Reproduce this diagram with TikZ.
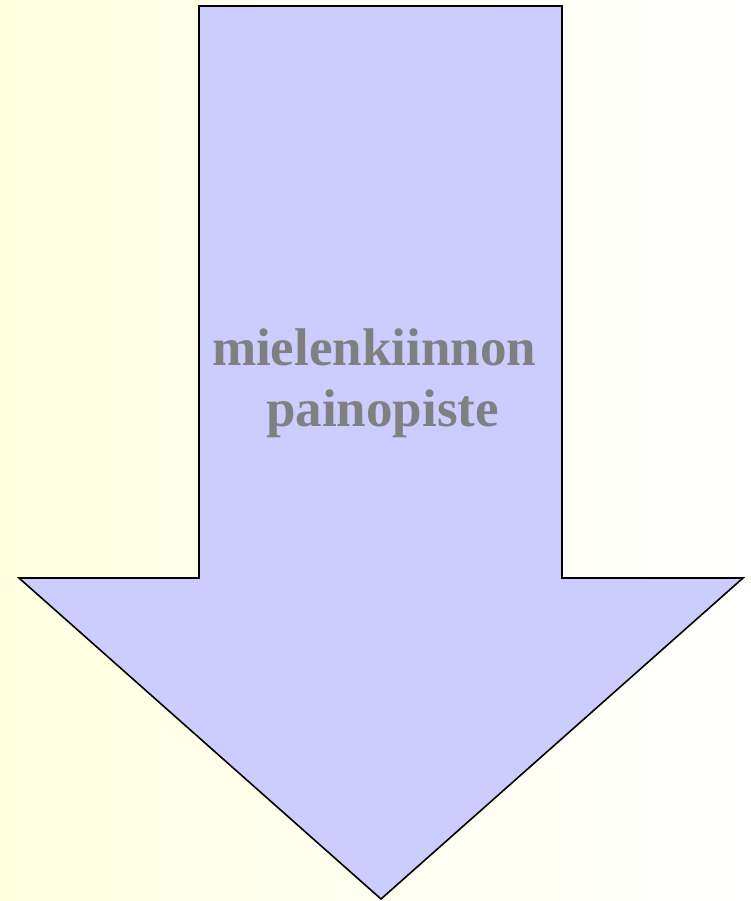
\documentclass[tikz,border=0pt]{standalone}
\usepackage{fontspec}
\setmainfont{Liberation Serif}
\definecolor{bgyellow}{RGB}{255,255,224}
\definecolor{arrowfill}{RGB}{204,204,255}
\definecolor{textgray}{RGB}{128,128,128}
\tikzset{
  bigarrow/.style={draw=black, line width=1.6pt, fill=arrowfill, line join=miter},
  label/.style={text=textgray, font=\fontsize{53}{61}\selectfont\bfseries, align=center, inner sep=0pt}
}
\begin{document}
\begin{tikzpicture}[x=1pt,y=-1pt]
  \shade[left color=bgyellow, right color=white] (0,0) rectangle (750,901);
  \useasboundingbox (0,0) rectangle (750,901);
  \draw[bigarrow] (199,6) -- (562,6) -- (562,578) -- (743,578) -- (381,899) -- (19,578) -- (199,578) -- cycle;
  \node[label, anchor=base] (l1) at (380.5,365) {mielenkiinnon\hspace*{13pt}};
  \node[label, anchor=base] (l2) at (382.5,426) {painopiste};
\end{tikzpicture}
\end{document}
